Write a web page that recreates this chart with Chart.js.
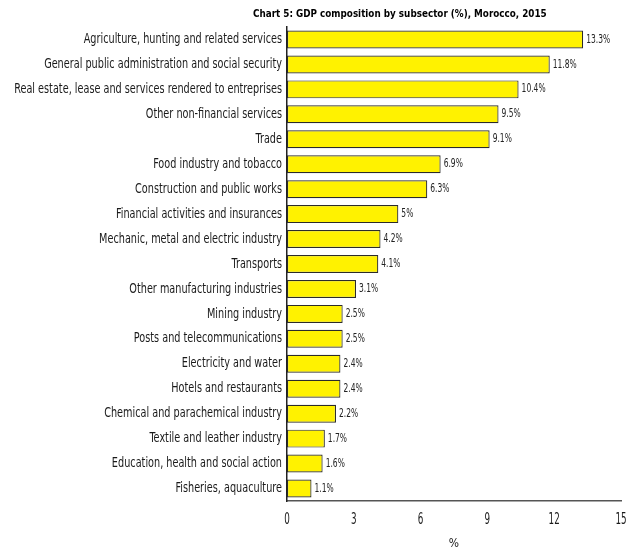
<!DOCTYPE html>
<html>
<head>
<meta charset="utf-8">
<script src="https://cdn.jsdelivr.net/npm/chart.js@4"></script>
<style>
  body { margin: 0; background: #fff; }
  #wrap { position: relative; width: 633px; height: 552px; }
  #title {
    position: absolute; left: 253px; top: 7px;
    font-family: "DejaVu Sans", sans-serif;
    font-stretch: condensed;
    font-weight: bold; font-size: 11px; color: #000;
    white-space: nowrap;
    transform: scaleX(0.89); transform-origin: left top;
  }
</style>
</head>
<body>
<div id="wrap">
  <div id="title">Chart 5: GDP composition by subsector (%), Morocco, 2015</div>
  <canvas id="gdpChart" width="633" height="552"></canvas>
</div>
<script>
const sectors = [
  "Agriculture, hunting and related services",
  "General public administration and social security",
  "Real estate, lease and services rendered to entreprises",
  "Other non-financial services",
  "Trade",
  "Food industry and tobacco",
  "Construction and public works",
  "Financial activities and insurances",
  "Mechanic, metal and electric industry",
  "Transports",
  "Other manufacturing industries",
  "Mining industry",
  "Posts and telecommunications",
  "Electricity and water",
  "Hotels and restaurants",
  "Chemical and parachemical industry",
  "Textile and leather industry",
  "Education, health and social action",
  "Fisheries, aquaculture",
];
const shares = [13.3, 11.8, 10.4, 9.5, 9.1, 6.9, 6.3, 5, 4.2, 4.1, 3.1, 2.5, 2.5, 2.4, 2.4, 2.2, 1.7, 1.6, 1.1];
const xTicks = [0, 3, 6, 9, 12, 15];

const fontFamily = '"DejaVu Sans", sans-serif';

// the original uses a very narrow face, so squeeze the text horizontally
function squeezedText(ctx, text, x, y, align, sx) {
  ctx.save();
  ctx.translate(x, y);
  ctx.scale(sx, 1);
  ctx.textAlign = align;
  ctx.fillText(text, 0, 0);
  ctx.restore();
}

const narrowLabels = {
  id: "narrowLabels",
  afterDatasetsDraw(chart) {
    const ctx = chart.ctx;
    const meta = chart.getDatasetMeta(0);
    const xScale = chart.scales.x;
    const yScale = chart.scales.y;
    ctx.save();
    ctx.textBaseline = "middle";

    // category labels
    ctx.fillStyle = "#1a1a1a";
    ctx.font = "condensed 14px " + fontFamily;
    sectors.forEach((name, i) => {
      squeezedText(ctx, name, yScale.right - 5, yScale.getPixelForTick(i), "right", 0.77);
    });

    // values at the bar ends
    ctx.fillStyle = "#222";
    ctx.font = "condensed 12px " + fontFamily;
    meta.data.forEach((bar, i) => {
      squeezedText(ctx, shares[i] + "%", bar.x + 3, bar.y, "left", 0.7);
    });

    // x tick labels
    ctx.fillStyle = "#1a1a1a";
    ctx.font = "condensed 15px " + fontFamily;
    xTicks.forEach((v) => {
      squeezedText(ctx, String(v), xScale.getPixelForValue(v), xScale.top + 19, "center", 0.65);
    });
    ctx.restore();
  },
};

const ctx = document.getElementById("gdpChart").getContext("2d");
new Chart(ctx, {
  type: "bar",
  data: {
    labels: sectors,
    datasets: [
      {
        data: shares,
        backgroundColor: "#fff200",
        borderColor: "#2b2b2b",
        borderWidth: 1.2,
        borderSkipped: false,
        barPercentage: 0.8,
        categoryPercentage: 0.9,
      },
    ],
  },
  options: {
    indexAxis: "y",
    responsive: false,
    animation: false,
    layout: { padding: { top: 27, right: 12, left: 0, bottom: 0 } },
    plugins: {
      legend: { display: false },
      tooltip: { enabled: false },
    },
    scales: {
      x: {
        min: 0,
        max: 15,
        afterBuildTicks: (scale) => {
          scale.ticks = xTicks.map((v) => ({ value: v }));
        },
        afterFit: (scale) => {
          scale.height = 51;
          scale.paddingRight = 0;
          scale.paddingLeft = 0;
        },
        grid: { display: false, drawTicks: false },
        border: { display: true, color: "#555", width: 1.5 },
        ticks: { display: false },
        title: {
          display: true,
          text: "%",
          color: "#222",
          font: { family: fontFamily, size: 12, weight: "condensed", lineHeight: 0.7 },
        },
      },
      y: {
        afterFit: (scale) => {
          scale.width = 287;
        },
        grid: { display: false, drawTicks: false },
        border: { display: true, color: "#222", width: 1.5 },
        ticks: { display: false },
      },
    },
  },
  plugins: [narrowLabels],
});
</script>
</body>
</html>
